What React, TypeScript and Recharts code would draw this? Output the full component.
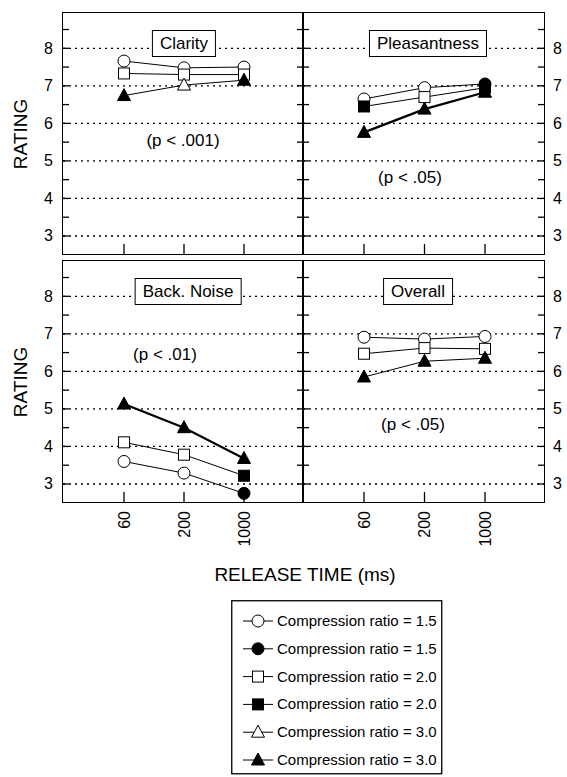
import React from 'react'
import { LineChart, Line, XAxis, YAxis, ReferenceLine } from 'recharts'

const releaseTimes = ['60', '200', '1000']
const ratingTicks = [3, 3.5, 4, 4.5, 5, 5.5, 6, 6.5, 7, 7.5, 8, 8.5]
const gridLines = [3, 4, 5, 6, 7, 8]

// mean ratings at each release time, one array per compression ratio
const clarity15 = [7.66, 7.48, 7.5]
const clarity20 = [7.33, 7.3, 7.3]
const clarity30 = [6.74, 7.02, 7.15]
const pleasant15 = [6.65, 6.95, 7.05]
const pleasant20 = [6.45, 6.7, 6.95]
const pleasant30 = [5.76, 6.38, 6.83]
const noise15 = [3.6, 3.29, 2.75]
const noise20 = [4.11, 3.78, 3.22]
const noise30 = [5.13, 4.5, 3.68]
const overall15 = [6.91, 6.86, 6.93]
const overall20 = [6.47, 6.62, 6.6]
const overall30 = [5.85, 6.27, 6.35]

// 1 = filled symbol, 0 = open symbol
const clarityFill15 = [0, 0, 0]
const clarityFill20 = [0, 0, 0]
const clarityFill30 = [1, 0, 1]
const pleasantFill15 = [0, 0, 1]
const pleasantFill20 = [1, 0, 1]
const pleasantFill30 = [1, 1, 1]
const noiseFill15 = [0, 0, 1]
const noiseFill20 = [0, 0, 1]
const noiseFill30 = [1, 1, 1]
const overallFill15 = [0, 0, 0]
const overallFill20 = [0, 0, 0]
const overallFill30 = [1, 1, 1]

const legendLabels = [
  'Compression ratio = 1.5',
  'Compression ratio = 1.5',
  'Compression ratio = 2.0',
  'Compression ratio = 2.0',
  'Compression ratio = 3.0',
  'Compression ratio = 3.0',
]
const legendShapes = ['circle', 'circle', 'square', 'square', 'triangle', 'triangle']
const legendFilled = [0, 1, 0, 1, 0, 1]

const FONT = '"Liberation Sans", Arial, sans-serif'
const Y_DOMAIN = [2.52, 8.94]
const PLOT_H = 241

function Marker({ shape, cx, cy, filled }: { shape: string; cx: number; cy: number; filled: boolean }) {
  const fill = filled ? '#000' : '#fff'
  if (shape === 'circle') return <circle cx={cx} cy={cy} r={6} fill={fill} stroke="#000" strokeWidth={1} />
  if (shape === 'square')
    return <rect x={cx - 5.5} y={cy - 5.5} width={11} height={11} fill={fill} stroke="#000" strokeWidth={1} />
  return (
    <polygon
      points={`${cx},${cy - 7} ${cx - 6.5},${cy + 5} ${cx + 6.5},${cy + 5}`}
      fill={fill}
      stroke="#000"
      strokeWidth={1}
    />
  )
}

const makeDot = (shape: string, key: string) => (props: any) => {
  const { cx, cy, payload, index } = props
  return <Marker key={`${key}-${index}`} shape={shape} cx={cx} cy={cy} filled={payload[key] === 1} />
}

// inward tick marks; labels only on the outer edges
const leftTick = (labels: boolean) => (props: any) => {
  const { x, y, payload } = props
  const v = payload.value
  return (
    <g>
      <line x1={x} x2={x + 6} y1={y} y2={y} stroke="#000" strokeWidth={1.3} />
      {labels && Number.isInteger(v) ? (
        <text x={x - 10} y={y} dy={5.5} textAnchor="end" fontSize={16} fill="#000">
          {v}
        </text>
      ) : null}
    </g>
  )
}

const rightTick = (labels: boolean) => (props: any) => {
  const { x, y, payload } = props
  const v = payload.value
  return (
    <g>
      <line x1={x - 6} x2={x} y1={y} y2={y} stroke="#000" strokeWidth={1.3} />
      {labels && Number.isInteger(v) ? (
        <text x={x + 9} y={y} dy={5.5} textAnchor="start" fontSize={16} fill="#000">
          {v}
        </text>
      ) : null}
    </g>
  )
}

const bottomTick = (labels: boolean) => (props: any) => {
  const { x, y, payload } = props
  return (
    <g>
      <line x1={x} x2={x} y1={y} y2={y - 10} stroke="#000" strokeWidth={1.3} />
      {labels ? (
        <text
          transform={`translate(${x + 5.5}, ${y + 9}) rotate(-90)`}
          textAnchor="end"
          fontSize={16}
          fill="#000"
        >
          {payload.value}
        </text>
      ) : null}
    </g>
  )
}

interface PanelProps {
  side: 'left' | 'right'
  row: 'top' | 'bottom'
  title: string
  titleX: number
  pText: string
  pX: number
  pY: number
  r15: number[]
  r20: number[]
  r30: number[]
  f15: number[]
  f20: number[]
  f30: number[]
  heavy: boolean
}

function Panel(p: PanelProps) {
  const data = releaseTimes.map((time, i) => ({
    time,
    r15: p.r15[i],
    r20: p.r20[i],
    r30: p.r30[i],
    f15: p.f15[i],
    f20: p.f20[i],
    f30: p.f30[i],
  }))
  const isLeft = p.side === 'left'
  const isBottom = p.row === 'bottom'
  const plotLeft = isLeft ? 63 : 303
  const plotW = isLeft ? 240 : 241
  const leftW = isLeft ? 63 : 1
  const rightW = isLeft ? 1 : 23
  const top = isBottom ? 261 : 13
  const xAxisH = isBottom ? 50 : 1

  return (
    <>
      <div style={{ position: 'absolute', left: plotLeft - leftW, top }}>
        <LineChart
          width={leftW + plotW + rightW}
          height={PLOT_H + xAxisH}
          data={data}
          margin={{ top: 0, right: 0, bottom: 0, left: 0 }}
        >
          <XAxis
            dataKey="time"
            type="category"
            height={xAxisH}
            padding={{ left: 61, right: 59 }}
            axisLine={false}
            tickLine={false}
            tickSize={0}
            tickMargin={0}
            interval={0}
            tick={bottomTick(isBottom)}
          />
          <YAxis
            type="number"
            domain={Y_DOMAIN}
            ticks={ratingTicks}
            allowDataOverflow
            width={leftW}
            axisLine={false}
            tickLine={false}
            tickSize={0}
            tickMargin={0}
            interval={0}
            tick={leftTick(isLeft)}
          />
          <YAxis
            yAxisId="r"
            orientation="right"
            type="number"
            domain={Y_DOMAIN}
            ticks={ratingTicks}
            allowDataOverflow
            width={rightW}
            axisLine={false}
            tickLine={false}
            tickSize={0}
            tickMargin={0}
            interval={0}
            tick={rightTick(!isLeft)}
          />
          {gridLines.map((g) => (
            <ReferenceLine key={g} y={g} stroke="#000" strokeWidth={1.3} strokeDasharray="2 4" />
          ))}
          <Line
            dataKey="r15"
            stroke="#000"
            strokeWidth={1}
            dot={makeDot('circle', 'f15')}
            activeDot={false}
            isAnimationActive={false}
          />
          <Line
            dataKey="r20"
            stroke="#000"
            strokeWidth={1}
            dot={makeDot('square', 'f20')}
            activeDot={false}
            isAnimationActive={false}
          />
          <Line
            dataKey="r30"
            stroke="#000"
            strokeWidth={p.heavy ? 2.2 : 1}
            dot={makeDot('triangle', 'f30')}
            activeDot={false}
            isAnimationActive={false}
          />
        </LineChart>
      </div>
      {/* panel frame */}
      <div
        style={{
          position: 'absolute',
          left: plotLeft - 0.75,
          top: top - 0.75,
          width: plotW + 1.5,
          height: PLOT_H + 1.5,
          border: '1.5px solid #000',
          boxSizing: 'border-box',
          pointerEvents: 'none',
        }}
      />
      <div
        style={{
          position: 'absolute',
          left: p.titleX,
          top: top + 17,
          transform: 'translateX(-50%)',
          height: 25,
          lineHeight: '25px',
          padding: '0 7px',
          border: '1.5px solid #000',
          background: '#fff',
          fontSize: 17,
          whiteSpace: 'nowrap',
        }}
      >
        {p.title}
      </div>
      <div
        style={{
          position: 'absolute',
          left: p.pX,
          top: p.pY,
          transform: 'translate(-50%, -50%)',
          fontSize: 17,
          whiteSpace: 'nowrap',
        }}
      >
        {p.pText}
      </div>
    </>
  )
}

function LegendBox() {
  return (
    <svg width={212} height={175} style={{ position: 'absolute', left: 231, top: 600 }}>
      <rect x={0.75} y={0.75} width={210} height={173} fill="#fff" stroke="#000" strokeWidth={1.3} />
      {legendLabels.map((label, i) => {
        const y = 21 + i * 27.8
        return (
          <g key={i}>
            <line x1={12} x2={42} y1={y} y2={y} stroke="#000" strokeWidth={1} />
            <Marker shape={legendShapes[i]} cx={27} cy={y} filled={legendFilled[i] === 1} />
            <text x={46} y={y + 5} fontSize={15} fill="#000">
              {label}
            </text>
          </g>
        )
      })}
    </svg>
  )
}

export default function App() {
  return (
    <div
      style={{
        position: 'absolute',
        left: 0,
        top: 0,
        width: 567,
        height: 777,
        background: '#fff',
        fontFamily: FONT,
        color: '#000',
        overflow: 'hidden',
      }}
    >
      <style>{'.recharts-surface { overflow: visible; }'}</style>
      <Panel
        side="left"
        row="top"
        title="Clarity"
        titleX={184}
        pText="(p < .001)"
        pX={183}
        pY={141}
        r15={clarity15}
        r20={clarity20}
        r30={clarity30}
        f15={clarityFill15}
        f20={clarityFill20}
        f30={clarityFill30}
        heavy={false}
      />
      <Panel
        side="right"
        row="top"
        title="Pleasantness"
        titleX={428}
        pText="(p < .05)"
        pX={410}
        pY={178}
        r15={pleasant15}
        r20={pleasant20}
        r30={pleasant30}
        f15={pleasantFill15}
        f20={pleasantFill20}
        f30={pleasantFill30}
        heavy
      />
      <Panel
        side="left"
        row="bottom"
        title="Back. Noise"
        titleX={188}
        pText="(p < .01)"
        pX={165}
        pY={355}
        r15={noise15}
        r20={noise20}
        r30={noise30}
        f15={noiseFill15}
        f20={noiseFill20}
        f30={noiseFill30}
        heavy
      />
      <Panel
        side="right"
        row="bottom"
        title="Overall"
        titleX={418}
        pText="(p < .05)"
        pX={413}
        pY={425}
        r15={overall15}
        r20={overall20}
        r30={overall30}
        f15={overallFill15}
        f20={overallFill20}
        f30={overallFill30}
        heavy={false}
      />
      {[134, 382].map((cy) => (
        <div
          key={cy}
          style={{
            position: 'absolute',
            left: 21,
            top: cy,
            transform: 'translate(-50%, -50%) rotate(-90deg)',
            fontSize: 19,
            whiteSpace: 'nowrap',
          }}
        >
          RATING
        </div>
      ))}
      <div
        style={{
          position: 'absolute',
          left: 305,
          top: 575,
          transform: 'translate(-50%, -50%)',
          fontSize: 19,
          whiteSpace: 'nowrap',
        }}
      >
        RELEASE TIME (ms)
      </div>
      <LegendBox />
    </div>
  )
}
